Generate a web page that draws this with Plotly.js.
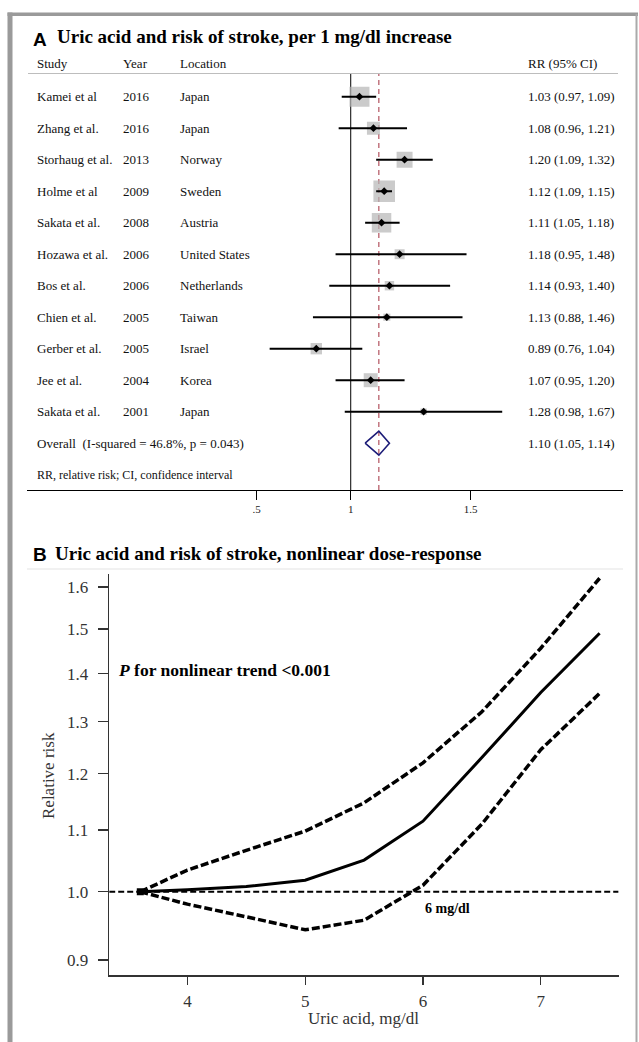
<!DOCTYPE html>
<html>
<head>
<meta charset="utf-8">
<script src="https://cdn.plot.ly/plotly-3.0.1.min.js"></script>
<style>
html,body{margin:0;padding:0;background:#fff;}
#chart{width:639px;height:1042px;}
</style>
</head>
<body>
<div id="chart"></div>
<script>
// ---------- Panel A data (forest plot) ----------
const studies   = ['Kamei et al','Zhang et al.','Storhaug et al.','Holme et al','Sakata et al.','Hozawa et al.','Bos et al.','Chien et al.','Gerber et al.','Jee et al.','Sakata et al.'];
const years     = ['2016','2016','2013','2009','2008','2006','2006','2005','2005','2004','2001'];
const locations = ['Japan','Japan','Norway','Sweden','Austria','United States','Netherlands','Taiwan','Israel','Korea','Japan'];
const rr        = [1.03,1.08,1.20,1.12,1.11,1.18,1.14,1.13,0.89,1.07,1.28];
const rrLow     = [0.97,0.96,1.09,1.09,1.05,0.95,0.93,0.88,0.76,0.95,0.98];
const rrHigh    = [1.09,1.21,1.32,1.15,1.18,1.48,1.40,1.46,1.04,1.20,1.67];
const weights   = [17.6,7.4,11.2,20.5,16.7,4.4,3.9,2.2,5.7,8.6,1.8];
const overallLabel = 'Overall  (I-squared = 46.8%, p = 0.043)';
const overallRR   = 1.10;
const overallLow  = 1.05;
const overallHigh = 1.14;
const forestTickVals = [0.7275, 1, 1.5];
const forestTickText = ['.5', '1', '1.5'];

// ---------- Panel B data (dose-response) ----------
const uricAcid = [3.6, 4.0, 4.5, 5.0, 5.5, 6.0, 6.5, 7.0, 7.5];
const rrCurve  = [1.0, 1.003, 1.008, 1.018, 1.05, 1.115, 1.23, 1.36, 1.49];
const rrUpper  = [1.0, 1.034, 1.066, 1.098, 1.147, 1.22, 1.32, 1.456, 1.622];
const rrLower  = [1.0, 0.981, 0.962, 0.943, 0.957, 1.01, 1.11, 1.245, 1.358];
const doseYTicks = [0.9, 1.0, 1.1, 1.2, 1.3, 1.4, 1.5, 1.6];
const doseXTicks = [4, 5, 6, 7];

// ---------- geometry helpers ----------
const W = 639, H = 1042;
const px = v => v / W;
const py = v => 1 - v / H;
const SERIF = 'Liberation Serif, Times New Roman, serif';
const SANS = 'Liberation Sans, Arial, sans-serif';

const rowIdx = studies.map((_, i) => i);
const overallRow = studies.length;
const noteRow = studies.length + 1;
const forestYRange = [12.486, -0.7206];
const forestXRange = [-0.4759, 0.3997];
const doseXRange = [3.336, 7.661];
const doseYRange = [-0.0558, 0.2129];

const fmt = v => v.toFixed(2);

// CI segments
const ciX = [], ciY = [];
rr.forEach((v, i) => { ciX.push(rrLow[i], rrHigh[i], null); ciY.push(i, i, null); });

const traces = [
  // null line x=1
  {x:[1,1], y:forestYRange, mode:'lines', line:{color:'#000', width:1}, xaxis:'x', yaxis:'y', hoverinfo:'skip', showlegend:false},
  // overall dashed line
  {x:[overallRR, overallRR], y:forestYRange, mode:'lines', line:{color:'#a3303f', width:1, dash:'5px,4px'}, xaxis:'x', yaxis:'y', hoverinfo:'skip', showlegend:false},
  // weight boxes
  {x:rr, y:rowIdx, mode:'markers', marker:{symbol:'square', size:weights.map(w => 4.77*Math.sqrt(w)), color:'#b5b5b5', line:{width:0}}, xaxis:'x', yaxis:'y', showlegend:false},
  // CI lines
  {x:ciX, y:ciY, mode:'lines', line:{color:'#000', width:2}, xaxis:'x', yaxis:'y', showlegend:false, connectgaps:false},
  // point estimates
  {x:rr, y:rowIdx, mode:'markers', marker:{symbol:'diamond', size:6, color:'#000'}, xaxis:'x', yaxis:'y', showlegend:false},
  // overall diamond
  {x:[overallLow, overallRR, overallHigh, overallRR, overallLow], y:[overallRow, overallRow-0.38, overallRow, overallRow+0.38, overallRow],
   mode:'lines', fill:'toself', fillcolor:'rgba(255,255,255,0)', line:{color:'#1c1c78', width:1.6}, xaxis:'x', yaxis:'y', showlegend:false},
  // ---- panel B ----
  {x:doseXRange, y:[1,1], mode:'lines', line:{color:'#000', width:2, dash:'6px,3px'}, xaxis:'x2', yaxis:'y2', showlegend:false, cliponaxis:false},
  {x:uricAcid, y:rrUpper, mode:'lines', line:{color:'#000', width:3.5, dash:'8px,3px'}, xaxis:'x2', yaxis:'y2', showlegend:false},
  {x:uricAcid, y:rrLower, mode:'lines', line:{color:'#000', width:3.5, dash:'8px,3px'}, xaxis:'x2', yaxis:'y2', showlegend:false},
  {x:uricAcid, y:rrCurve, mode:'lines', line:{color:'#000', width:3}, xaxis:'x2', yaxis:'y2', showlegend:false},
  {x:[uricAcid[0]], y:[rrCurve[0]], mode:'markers', marker:{symbol:'square', size:7, color:'#000'}, xaxis:'x2', yaxis:'y2', showlegend:false}
];

const ann = [];
const txt = (text, x, y, opts) => Object.assign({text, x, y, xref:'paper', yref:'paper', showarrow:false, xanchor:'left', yanchor:'middle',
  font:{family:SERIF, size:13, color:'#111'}}, opts || {});

// Panel A titles
ann.push(txt('<b>A</b>', px(31), py(39), {font:{family:SANS, size:19, color:'#000'}}));
ann.push(txt('<b>Uric acid and risk of stroke, per 1 mg/dl increase</b>', px(55), py(37), {font:{family:SERIF, size:19, color:'#000'}}));
// headers
ann.push(txt('Study', px(35), py(63)));
ann.push(txt('Year', px(121), py(63)));
ann.push(txt('Location', px(178), py(63)));
ann.push(txt('RR (95% CI)', px(526), py(63)));
// rows
studies.forEach((s, i) => {
  ann.push(txt(s, px(35), i, {yref:'y'}));
  ann.push(txt(years[i], px(121), i, {yref:'y'}));
  ann.push(txt(locations[i], px(178), i, {yref:'y'}));
  ann.push(txt(fmt(rr[i]) + ' (' + fmt(rrLow[i]) + ', ' + fmt(rrHigh[i]) + ')', px(526), i, {yref:'y'}));
});
ann.push(txt(overallLabel, px(35), overallRow, {yref:'y'}));
ann.push(txt(fmt(overallRR) + ' (' + fmt(overallLow) + ', ' + fmt(overallHigh) + ')', px(526), overallRow, {yref:'y'}));
ann.push(txt('RR, relative risk; CI, confidence interval', px(35), noteRow, {yref:'y', font:{family:SERIF, size:12, color:'#111'}}));

// Panel B titles
ann.push(txt('<b>B</b>', px(31), py(554), {font:{family:SANS, size:19, color:'#000'}}));
ann.push(txt('<b>Uric acid and risk of stroke, nonlinear dose-response</b>', px(53), py(553), {font:{family:SERIF, size:19, color:'#000'}}));
ann.push(txt('<b><i>P</i> for nonlinear trend &lt;0.001</b>', px(116), py(670), {font:{family:SERIF, size:17.5, color:'#000'}}));
ann.push({text:'<b>6 mg/dl</b>', x:6, y:Math.log10(0.975), xref:'x2', yref:'y2', showarrow:false, xanchor:'left', yanchor:'middle',
  font:{family:SERIF, size:14, color:'#000'}});
ann.push(txt('Relative risk', px(48), py(776), {xanchor:'center', textangle:-90, font:{family:SERIF, size:17, color:'#333'}}));
ann.push(txt('Uric acid, mg/dl', px(363.5), py(1018), {xanchor:'center', font:{family:SERIF, size:17, color:'#333'}}));

const shapes = [
  // frame
  {type:'rect', xref:'paper', yref:'paper', x0:px(7.5), x1:px(12.5), y0:0, y1:py(12.5), fillcolor:'#9a9a9a', line:{width:0}, layer:'below'},
  {type:'rect', xref:'paper', yref:'paper', x0:px(7.5), x1:px(638), y0:py(16), y1:py(12.5), fillcolor:'#9a9a9a', line:{width:0}, layer:'below'},
  {type:'line', xref:'paper', yref:'paper', x0:px(636.5), x1:px(636.5), y0:0, y1:py(14), line:{color:'#aaaaaa', width:2}, layer:'below'},
  // header underline
  {type:'line', xref:'paper', yref:'paper', x0:px(28), x1:px(618), y0:py(73.5), y1:py(73.5), line:{color:'#bdbdbd', width:1.2}, layer:'below'},
  // B underline
  {type:'line', xref:'paper', yref:'paper', x0:px(27), x1:px(623), y0:py(569), y1:py(569), line:{color:'#e3e3e3', width:1}, layer:'below'}
];

const layout = {
  width:W, height:H,
  margin:{l:0, r:0, t:0, b:0, pad:0},
  paper_bgcolor:'#fff', plot_bgcolor:'rgba(0,0,0,0)',
  showlegend:false,
  font:{family:SERIF, color:'#111'},
  xaxis:{domain:[px(27), px(622.6)], type:'log', range:forestXRange, anchor:'y',
    tickvals:forestTickVals, ticktext:forestTickText, ticks:'outside', ticklen:9, tickwidth:1, tickcolor:'#000',
    showline:true, linecolor:'#000', linewidth:1, showgrid:false, zeroline:false,
    tickfont:{family:SERIF, size:11, color:'#222'}, fixedrange:true},
  yaxis:{domain:[py(490), py(74)], range:forestYRange, anchor:'x', visible:false, showgrid:false, zeroline:false, fixedrange:true},
  xaxis2:{domain:[px(109.2), px(618.6)], range:doseXRange, anchor:'y2',
    tickvals:doseXTicks, ticks:'outside', ticklen:8, tickwidth:1.2, tickcolor:'#333',
    showline:true, linecolor:'#333', linewidth:1.5, showgrid:false, zeroline:false, ticklabelstandoff:2,
    tickfont:{family:SERIF, size:17, color:'#333'}, fixedrange:true},
  yaxis2:{domain:[py(975), py(574)], type:'log', range:doseYRange, anchor:'x2',
    tickvals:doseYTicks, ticktext:doseYTicks.map(v => v.toFixed(1)), ticks:'outside', ticklen:10, tickwidth:1.2, tickcolor:'#333',
    showline:true, linecolor:'#333', linewidth:1.5, showgrid:false, zeroline:false, ticklabelstandoff:6,
    tickfont:{family:SERIF, size:17, color:'#333'}, fixedrange:true},
  annotations:ann,
  shapes:shapes
};

Plotly.newPlot('chart', traces, layout, {displayModeBar:false, staticPlot:true});
</script>
</body>
</html>
